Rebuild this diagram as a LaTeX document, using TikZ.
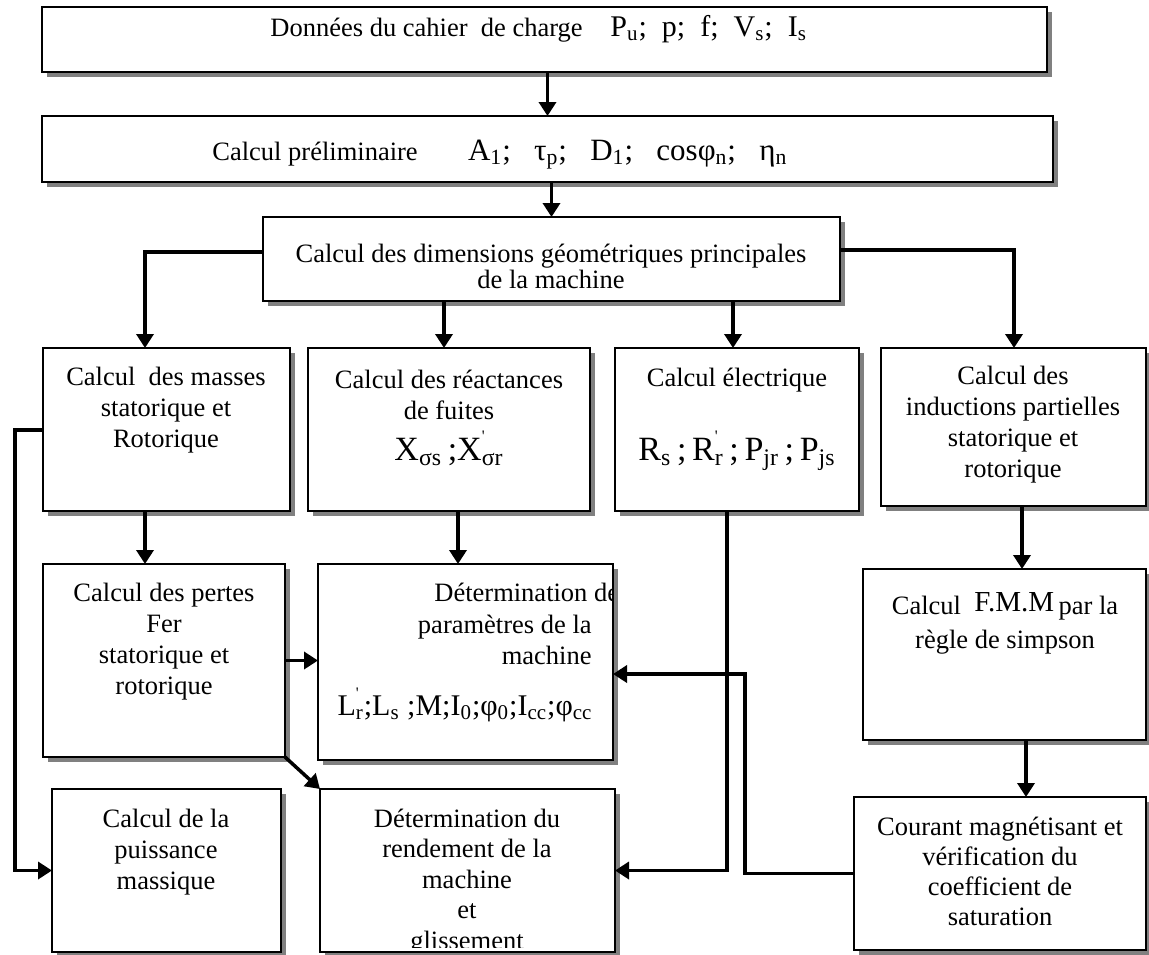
\documentclass[tikz,border=0pt]{standalone}
\usepackage{fontspec}
\setmainfont{Liberation Serif}
\usetikzlibrary{arrows.meta,shadows,fit}
\newcommand{\sbs}[1]{\textsubscript{#1}}
\newcommand{\prm}{\rlap{\raisebox{0.55em}{\fontsize{8}{8}\selectfont\textquotesingle}}}
\begin{document}
\begin{tikzpicture}[x=0.5pt,y=-0.5pt,
  box/.style={draw,line width=0.9pt,fill=white,inner sep=0pt,outer sep=0pt,
     drop shadow={shadow xshift=2.5pt,shadow yshift=-2.5pt,fill=black!50,opacity=1}},
  txt/.style={align=center,inner sep=0pt,font=\fontsize{13.25}{15.5}\selectfont},
  fml/.style={inner sep=0pt,font=\fontsize{15}{15}\selectfont},
  bigfml/.style={inner sep=0pt,font=\fontsize{17}{17}\selectfont},
  arr/.style={line width=1.75pt,-{Triangle[length=7pt,width=8.5pt]}},
  ln/.style={line width=1.75pt,line join=miter}]
\useasboundingbox (0,0) rectangle (1149,954);

% boxes
\node[box,fit={(42,7)(1047,72)}] (b1) {};
\node[box,fit={(42,116)(1053,182)}] (b2) {};
\node[box,fit={(263,217)(840,301)}] (b3) {};
\node[box,fit={(43,348)(290,511)}] (b4) {};
\node[box,fit={(308,348)(590,511)}] (b5) {};
\node[box,fit={(615,348)(859,511)}] (b6) {};
\node[box,fit={(881,348)(1146,506)}] (b7) {};
\node[box,fit={(43,564)(285,757)}] (b8) {};
\node[box,fit={(318,564)(613,760)}] (b9) {};
\node[box,fit={(863,569)(1146,740)}] (b10) {};
\node[box,fit={(320,789)(615,952)}] (b11) {};
\node[box,fit={(52,789)(281,952)}] (b12) {};
\node[box,fit={(854,797)(1146,950)}] (b13) {};

% texts
\node[txt,anchor=base west] (t1) at (270,36) {Données du cahier\ \ de charge\hspace{1.05em}{\fontsize{15}{15}\selectfont P\sbs{u};\ \ p;\ \ f;\ \ V\sbs{s};\ \ I\sbs{s}}};
\node[txt,anchor=base west] (t2) at (212,160) {Calcul préliminaire\hspace{1.9em}{\fontsize{15.5}{15.5}\selectfont A\sbs{1};\hspace{0.75em}τ\sbs{p};\hspace{0.75em}D\sbs{1};\hspace{0.75em}cosφ\sbs{n};\hspace{0.75em}η\sbs{n}}};
\node[txt,font=\fontsize{13.25}{13}\selectfont] (t3) at (551,266) {Calcul des dimensions géométriques principales\\de la machine};
\node[txt] (t4) at (166,410) {Calcul\ \ des masses\\statorique et\\Rotorique};
\node[txt] (t5) at (449,394.5) {Calcul des réactances\\de fuites};
\node[bigfml,anchor=base] (f5) at (449,460) {X\sbs{σs}\,;X\prm\sbs{σr}};
\node[txt,anchor=base] (t6) at (737,386) {Calcul électrique};
\node[bigfml,anchor=base] (f6) at (737,460) {R\sbs{s}\,;\,R\prm\sbs{r}\,;\,P\sbs{jr}\,;\,P\sbs{js}};
\node[txt] (t7) at (1013,425) {Calcul des\\inductions partielles\\statorique et\\rotorique};
\node[txt] (t8) at (164,641.5) {Calcul des pertes\\Fer\\statorique et\\rotorique};
\begin{scope}
  \clip (318,564) rectangle (613,760);
  \node[txt,anchor=base west] (t9a) at (434,601) {Détermination des};
\end{scope}
\node[txt,align=right,anchor=east] (t9b) at (592,640) {paramètres de la\\machine};
\node[fml,anchor=base] (f9) at (465,715) {L\prm\sbs{r};L\sbs{s}\ ;M;I\sbs{0};φ\sbs{0};I\sbs{cc};φ\sbs{cc}};
\node[txt,font=\fontsize{13.25}{17}\selectfont] (t10) at (1005,623) {Calcul\ \ \raisebox{1.5pt}{\fontsize{14.5}{14.5}\selectfont F.M.M}\,par la\\règle de simpson};
\begin{scope}
  \clip (320,789) rectangle (615,947);
  \node[txt,font=\fontsize{13.25}{15.25}\selectfont] (t11) at (467,882) {Détermination du\\rendement de la\\machine\\et\\glissement};
\end{scope}
\node[txt] (t12) at (166,852) {Calcul de la\\puissance\\massique};
\node[txt,font=\fontsize{13.25}{15}\selectfont] (t13) at (1000,871) {Courant magnétisant et\\vérification du\\coefficient de\\saturation};

% helper coordinates
\coordinate (k1) at (145,252);
\coordinate (k2) at (1014,250);
\coordinate (x444) at (444,0);
\coordinate (x733) at (733,0);
\coordinate (x458) at (458,0);
\coordinate (x1022) at (1022,0);
\coordinate (x1026) at (1026,0);
\coordinate (x727) at (727,0);
\coordinate (x745) at (745,0);
\coordinate (y674) at (0,674);
\coordinate (k3) at (15,430);

% connectors
\draw[arr] (b1.south -| b2.north) -- (b2.north);
\draw[arr] (b2.south -| b3.north) -- (b3.north);
\draw[arr,line join=miter] (b3.west |- k1) -- (k1) -- (k1 |- b4.north);
\draw[arr] (b3.south -| x444) -- (b4.north -| x444);
\draw[arr] (b3.south -| x733) -- (b6.north -| x733);
\draw[arr,line join=miter] (b3.east |- k2) -- (k2) -- (k2 |- b7.north);
\draw[arr] (b4.south -| k1) -- (b8.north -| k1);
\draw[arr] (b5.south -| x458) -- (b9.north -| x458);
\draw[arr] (b8.east) -- (b9.west |- b8.east);
\draw[arr] (b7.south -| x1022) -- (b10.north -| x1022);
\draw[arr] (b10.south -| x1026) -- (b13.north -| x1026);
\draw[arr] (b8.south east) -- (b11.north west);
\draw[arr,line join=miter] (b4.west |- k3) -- (k3) -- (k3 |- b12.west) -- (b12.west);
\draw[arr,line join=miter] (b6.south -| x727) -- (x727 |- b11.east) -- (b11.east);
\draw[arr,line join=miter] (b13.west) -- (x745 |- b13.west) -- (x745 |- y674) -- (b9.east |- y674);
\end{tikzpicture}
\end{document}
